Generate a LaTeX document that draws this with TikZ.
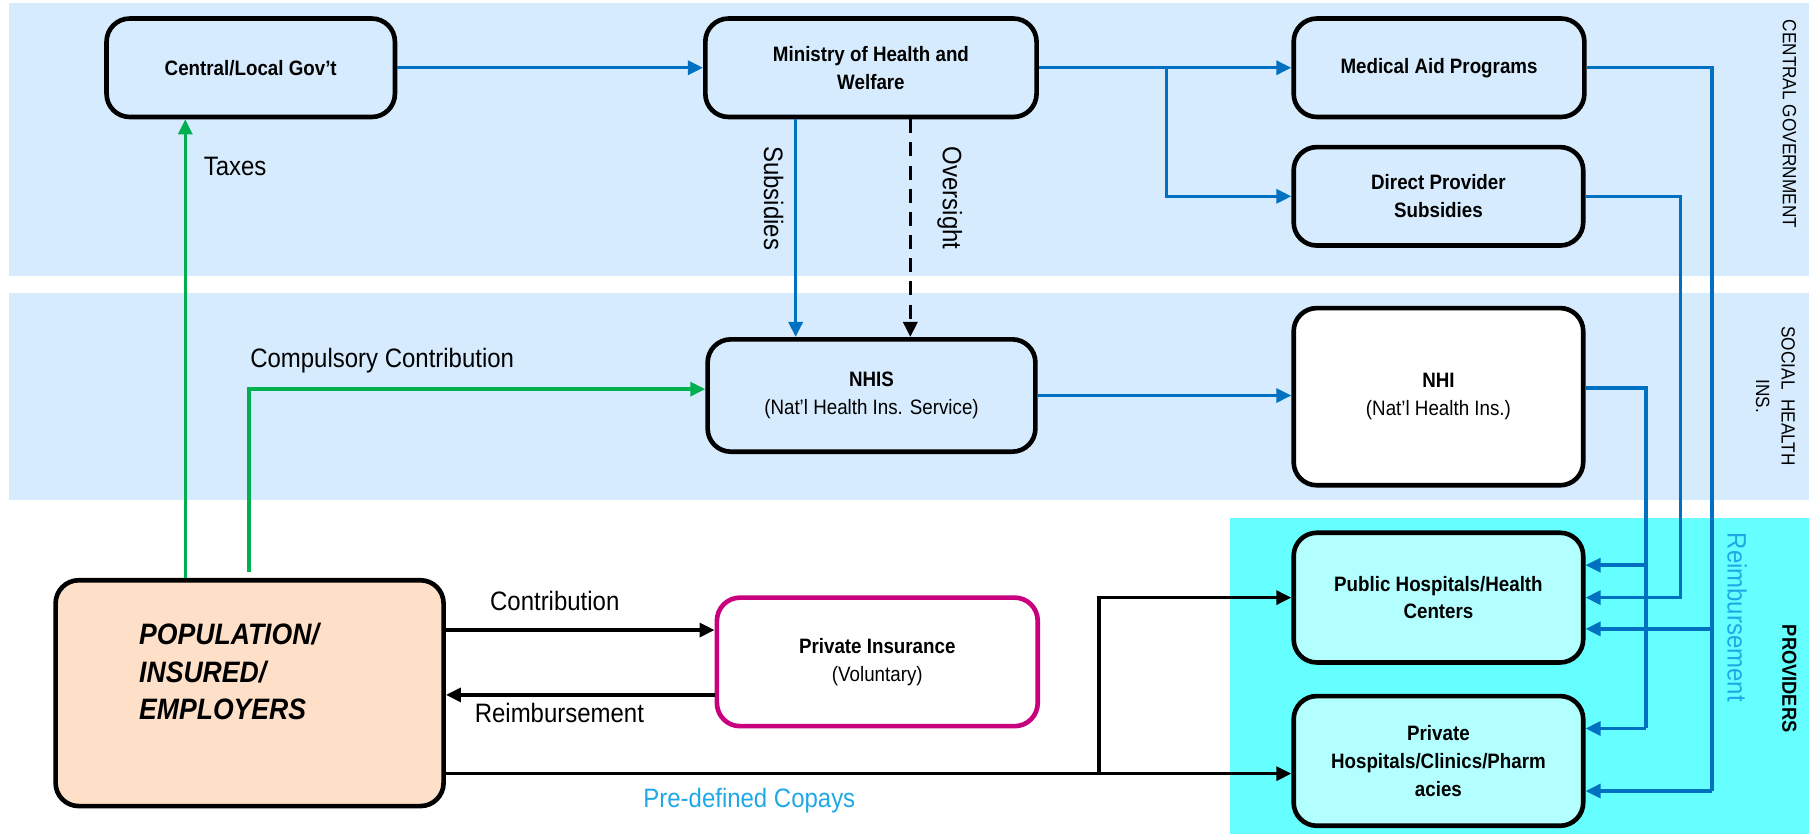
\documentclass[tikz,border=0pt]{standalone}
\usepackage{fontspec}
\setmainfont{Liberation Sans}[FakeStretch=0.9]
\usetikzlibrary{arrows.meta,calc}
\definecolor{bandblue}{HTML}{D6EBFD}
\definecolor{peach}{HTML}{FEE0C8}
\definecolor{magentab}{HTML}{C8007E}
\definecolor{cyanband}{HTML}{66FFFF}
\definecolor{cyannode}{HTML}{B3FFFF}
\definecolor{flowblue}{HTML}{0070C0}
\definecolor{flowgreen}{HTML}{00B050}
\definecolor{labelblue}{HTML}{1FA8E6}
\tikzset{
  box/.style={draw=black, line width=4pt, rounded corners=20pt, align=center,
    inner sep=0pt, font=\fontsize{18}{24}\selectfont},
  tip/.style={-{Triangle[length=13pt,width=12pt]}},
  blueline/.style={draw=flowblue, line width=3pt},
  greenline/.style={draw=flowgreen, line width=3pt},
  blackline/.style={draw=black, line width=3pt},
  elabel/.style={font=\fontsize{23}{27}\selectfont, inner sep=0pt},
  sidelabel/.style={font=\fontsize{16.5}{22}\selectfont, rotate=-90, align=center, inner sep=0pt}
}
\begin{document}
\begin{tikzpicture}[x=1pt,y=-1pt]
\useasboundingbox (0,0) rectangle (1568,723);
% bands
\fill[bandblue] (8,3) rectangle (1562,238);
\fill[bandblue] (8,253) rectangle (1562,432);
\fill[cyanband] (1062,447) rectangle (1562,720);

% nodes
\node[box, fill=bandblue, minimum width=249pt, minimum height=85pt] (cgov) at (216.5,58.5) {\textbf{Central/Local Gov’t}};
\node[box, fill=bandblue, minimum width=286pt, minimum height=85pt] (mohw) at (752,58.5) {\textbf{Ministry of Health and}\\\textbf{Welfare}};
\node[box, fill=bandblue, minimum width=251pt, minimum height=85pt] (med) at (1242.5,58.5) {\textbf{Medical Aid Programs}};
\node[box, fill=bandblue, minimum width=250pt, minimum height=85pt] (dps) at (1242,169.5) {\textbf{Direct Provider}\\\textbf{Subsidies}};
\node[box, fill=bandblue, minimum width=283pt, minimum height=97pt] (nhis) at (752.5,341.5) {\textbf{NHIS}\\(Nat’l Health Ins. Service)};
\node[box, fill=white, minimum width=250pt, minimum height=153pt] (nhi) at (1242,342.5) {\textbf{NHI}\\(Nat’l Health Ins.)};
\node[box, fill=peach, minimum width=335pt, minimum height=195pt] (pop) at (215.5,598.5) {};
\node[font=\fontsize{25.5}{32.5}\selectfont\bfseries\itshape, align=left, anchor=west, inner sep=0pt] (poptext) at (120,580) {POPULATION/\\INSURED/\\EMPLOYERS};
\node[box, draw=magentab, fill=white, minimum width=277pt, minimum height=111pt] (pins) at (757.5,571.5) {\textbf{Private Insurance}\\(Voluntary)};
\node[box, fill=cyannode, minimum width=250pt, minimum height=112pt] (pub) at (1242,516) {\textbf{Public Hospitals/Health}\\\textbf{Centers}};
\node[box, fill=cyannode, minimum width=250pt, minimum height=112pt] (priv) at (1242,657) {\textbf{Private}\\\textbf{Hospitals/Clinics/Pharm}\\\textbf{acies}};

% helper coordinates
\coordinate (br1) at (1007,58.5);
\coordinate (xs) at (687,0);
\coordinate (xo) at (786,0);
\coordinate (xt) at (160,0);
\coordinate (cc0) at (215,494);
\coordinate (ycc) at (0,336);
\coordinate (yc) at (0,544);
\coordinate (yr) at (0,600);
\coordinate (ycp) at (0,668);
\coordinate (cpb) at (949,668);
\coordinate (nhi1) at (1421,335);
\coordinate (nhi2) at (1421,488);
\coordinate (nhi3) at (1421,629);
\coordinate (dps1) at (1451,169.5);
\coordinate (dps2) at (1451,516);
\coordinate (med1) at (1478,58.5);
\coordinate (med2) at (1478,543);
\coordinate (med3) at (1478,683);

% blue flows in government
\draw[blueline, tip] (cgov.east) -- (mohw.west);
\draw[blueline, tip] (mohw.east) -- (med.west);
\draw[blueline, tip] (br1) |- (dps.west);
\draw[blueline, tip] (xs |- mohw.south) -- (xs |- nhis.north);
\draw[black, line width=3pt, dash pattern=on 12pt off 8pt, tip] (xo |- mohw.south) -- (xo |- nhis.north);
\draw[blueline, tip] (nhis.east) -- (nhis.east -| nhi.west);

% green flows
\draw[greenline, tip] (xt |- pop.north) -- (xt |- cgov.south);
\draw[greenline, tip] (cc0) |- (nhis.west |- ycc);

% black flows
\draw[blackline, tip] (pop.east |- yc) -- (pins.west |- yc);
\draw[blackline, tip] (pins.west |- yr) -- (pop.east |- yr);
\draw[blackline, tip] (pop.east |- ycp) -- (priv.west |- ycp);
\draw[blackline, tip] (cpb) |- (pub.west);

% reimbursement flows
\draw[blueline] (nhi.east |- nhi1) -- (nhi1) -- (nhi3);
\draw[blueline, tip] (nhi2) -- (pub.east |- nhi2);
\draw[blueline, tip] (nhi3) -- (priv.east |- nhi3);
\draw[blueline, tip] (dps.east) -- (dps1) -- (dps2) -- (pub.east |- dps2);
\draw[blueline] (med.east) -- (med1) -- (med3);
\draw[blueline, tip] (med2) -- (pub.east |- med2);
\draw[blueline, tip] (med3) -- (priv.east |- med3);

% labels
\node[elabel] (ltaxes) at (203,144) {Taxes};
\node[elabel, rotate=-90] (lsub) at (668,171) {Subsidies};
\node[elabel, rotate=-90] (lover) at (820,171) {Oversight};
\node[elabel] (lcomp) at (330,311) {Compulsory Contribution};
\node[elabel] (lcontr) at (479,519) {Contribution};
\node[elabel] (lreim) at (483,616) {Reimbursement};
\node[elabel, text=labelblue] (lcopay) at (647,691) {Pre-defined Copays};
\node[elabel, text=labelblue, rotate=-90] (lreimb) at (1500,533) {Reimbursement};
\node[sidelabel] (scg) at (1545,107) {CENTRAL GOVERNMENT};
\node[sidelabel] (ssh) at (1533,342) {SOCIAL\ \ HEALTH\\INS.};
\node[sidelabel, font=\fontsize{17.5}{22}\selectfont\bfseries] (sprov) at (1545,586) {PROVIDERS};
\end{tikzpicture}
\end{document}
